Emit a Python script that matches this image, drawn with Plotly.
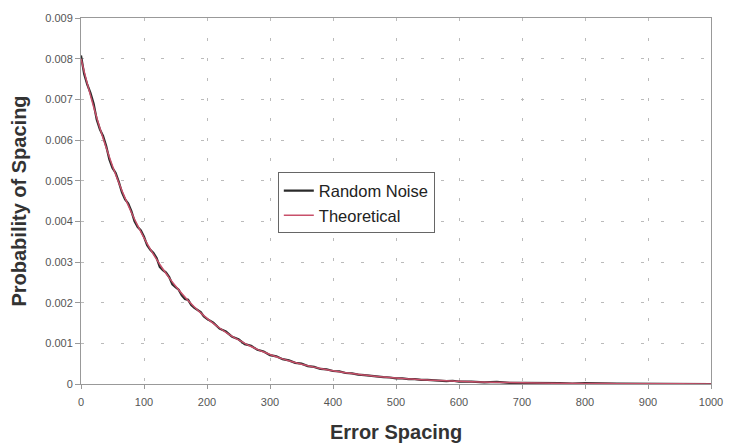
import plotly.graph_objects as go

# Theoretical curve
theo_x = [0, 10, 20, 30, 40, 50, 60, 70, 80, 90, 100, 110, 120, 130, 140, 150, 160, 170, 180, 190,
          200, 210, 220, 230, 240, 250, 260, 270, 280, 290, 300, 310, 320, 330, 340, 350, 360, 370,
          380, 390, 400, 410, 420, 430, 440, 450, 460, 470, 480, 490, 500, 510, 520, 530, 540, 550,
          560, 570, 580, 590, 600, 650, 700, 750, 800, 850, 900, 950, 1000]
theo_y = [0.00800, 0.007385, 0.006817, 0.006293, 0.005809, 0.005363, 0.004950, 0.004570, 0.004218,
          0.003894, 0.003595, 0.003318, 0.003063, 0.002828, 0.002610, 0.002410, 0.002224, 0.002053,
          0.001895, 0.001750, 0.001615, 0.001491, 0.001377, 0.001271, 0.001173, 0.001083, 0.000999,
          0.000923, 0.000852, 0.000786, 0.000726, 0.000670, 0.000618, 0.000571, 0.000527, 0.000487,
          0.000449, 0.000415, 0.000383, 0.000353, 0.000326, 0.000301, 0.000278, 0.000257, 0.000237,
          0.000219, 0.000202, 0.000186, 0.000172, 0.000159, 0.000147, 0.000135, 0.000125, 0.000115,
          0.000106, 0.000098, 0.000091, 0.000084, 0.000077, 0.000071, 0.000066, 0.000044, 0.000030,
          0.000020, 0.000013, 0.000009, 0.000006, 0.000004, 0.000003]

noise_x = [0, 5, 10, 15, 20, 25, 30, 35, 40, 45, 50, 55, 60, 65, 70, 75, 80, 85, 90, 95,
           100, 105, 110, 115, 120, 125, 130, 135, 140, 145, 150, 155, 160, 165, 170, 175, 180, 185, 190, 195,
           200, 210, 220, 230, 240, 250, 260, 270, 280, 290, 300, 310, 320, 330, 340, 350, 360, 370,
           380, 390, 400, 410, 420, 430, 440, 450, 460, 470, 480, 490, 500, 510, 520, 530, 540, 550,
           560, 570, 580, 590, 600, 620, 640, 660, 680, 700, 720, 740, 760, 780, 800, 850, 900, 950, 1000]
noise_y = [0.00808, 0.00762, 0.00736, 0.00716, 0.00690, 0.00650, 0.00626, 0.00610, 0.00585, 0.00552,
           0.00531, 0.00519, 0.00497, 0.00471, 0.00454, 0.00444, 0.00425, 0.00400, 0.00386, 0.00378,
           0.00362, 0.00341, 0.00330, 0.00322, 0.00310, 0.00288, 0.00280, 0.00274, 0.00263, 0.00245,
           0.00238, 0.00232, 0.00218, 0.00209, 0.00207, 0.00194, 0.00187, 0.00183, 0.00177, 0.00166,
           0.00160, 0.00151, 0.00136, 0.00129, 0.00116, 0.00110, 0.00098, 0.00094, 0.00084, 0.00080,
           0.00071, 0.00068, 0.00061, 0.00058, 0.00052, 0.00050, 0.00044, 0.00042, 0.00037, 0.00036,
           0.00032, 0.00031, 0.00027, 0.00026, 0.00023, 0.00022, 0.00020, 0.00019, 0.00017, 0.00016,
           0.00014, 0.00014, 0.00012, 0.00012, 0.00010, 0.00010, 0.00009, 0.00009, 0.00007, 0.00008,
           0.00006, 0.00006, 0.00004, 0.00005, 0.00003, 0.00003, 0.00003, 0.00002, 0.00002, 0.00001,
           0.00002, 0.00001, 0.00001, 0.00000, 0.00000]

x_ticks = [0, 100, 200, 300, 400, 500, 600, 700, 800, 900, 1000]
y_ticks = [0, 0.001, 0.002, 0.003, 0.004, 0.005, 0.006, 0.007, 0.008, 0.009]
y_labels = ["0", "0.001", "0.002", "0.003", "0.004", "0.005", "0.006", "0.007", "0.008", "0.009"]

fig = go.Figure()
fig.add_trace(go.Scatter(x=noise_x, y=noise_y, mode="lines", name="Random Noise",
                         line=dict(color="#2a2a2a", width=2.2)))
fig.add_trace(go.Scatter(x=theo_x, y=theo_y, mode="lines", name="Theoretical",
                         line=dict(color="#c8506a", width=1.5, shape="spline")))

tick_font = dict(family="Liberation Sans, Arial, sans-serif", size=11, color="#555555")

fig.update_layout(
    width=735, height=445,
    margin=dict(l=81, r=17, t=16, b=61),
    paper_bgcolor="white", plot_bgcolor="white",
    font=dict(family="Liberation Sans, Arial, sans-serif", color="#555555", size=11),
    legend=dict(x=0.3124, y=0.578, xanchor="left", yanchor="top",
                bgcolor="white", bordercolor="#666666", borderwidth=1,
                font=dict(size=16.5, color="#222222"), tracegroupgap=0),
    showlegend=True,
    annotations=[dict(text="<b>Error Spacing</b>", xref="paper", yref="paper",
                      x=0.5, y=-0.131, xanchor="center", yanchor="middle", showarrow=False,
                      font=dict(size=20, color="#333333"))],
)
fig.update_xaxes(
    range=[0, 1000], tickvals=x_ticks, ticks="outside", ticklen=4, tickcolor="#999999",
    ticklabelstandoff=4, tickfont=tick_font,
    showline=True, linecolor="#999999", linewidth=1, mirror=True,
    showgrid=True, gridcolor="#bbbbbb", griddash="3px,17px", zeroline=False,
)
fig.update_yaxes(
    range=[0, 0.009], tickvals=y_ticks, ticktext=y_labels, ticks="outside", ticklen=5,
    tickcolor="#999999", tickfont=tick_font,
    showline=True, linecolor="#999999", linewidth=1, mirror=True,
    showgrid=True, gridcolor="#bbbbbb", griddash="3px,17px", zeroline=False,
    title=dict(text="<b>Probability of Spacing</b>", font=dict(size=20, color="#333333"), standoff=13),
)

fig.write_html("out.html")
